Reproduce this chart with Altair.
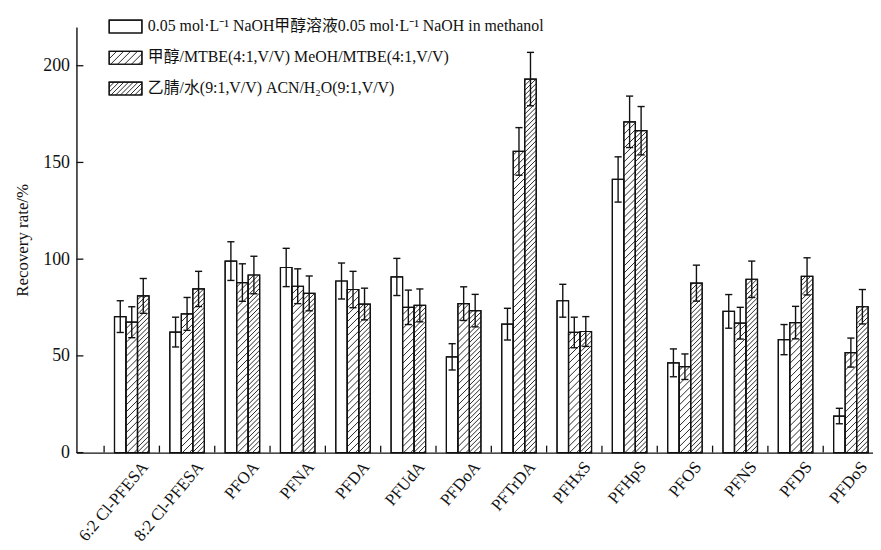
import altair as alt
import pandas as pd

# ---------------- data ----------------
categories = ["6:2 Cl-PFESA", "8:2 Cl-PFESA", "PFOA", "PFNA", "PFDA", "PFUdA", "PFDoA",
              "PFTrDA", "PFHxS", "PFHpS", "PFOS", "PFNS", "PFDS", "PFDoS"]
series = [
    "0.05 mol·L⁻¹ NaOH甲醇溶液0.05 mol·L⁻¹ NaOH in methanol",
    "甲醇/MTBE(4:1,V/V) MeOH/MTBE(4:1,V/V)",
    "乙腈/水(9:1,V/V) ACN/H₂O(9:1,V/V)",
]
naoh_mean = [70.3, 62.3, 99.0, 95.7, 88.7, 90.8, 49.5, 66.4, 78.5, 141.2, 46.4, 73.0, 58.4, 18.9]
naoh_err = [8.2, 7.7, 10.0, 9.9, 9.3, 9.6, 6.8, 8.2, 8.5, 11.7, 7.2, 8.7, 7.8, 4.0]
meoh_mean = [67.4, 71.7, 87.9, 86.0, 84.3, 75.1, 77.0, 155.7, 62.1, 171.0, 44.4, 66.9, 67.2, 51.7]
meoh_err = [8.0, 8.5, 9.7, 9.0, 9.4, 8.9, 8.7, 12.3, 7.9, 13.3, 6.6, 8.2, 8.4, 7.5]
acn_mean = [81.0, 84.6, 91.8, 82.3, 76.8, 76.1, 73.4, 193.1, 62.6, 166.4, 87.6, 89.6, 91.1, 75.4]
acn_err = [9.0, 9.1, 9.7, 9.0, 8.2, 8.5, 8.4, 13.8, 7.7, 12.5, 9.3, 9.4, 9.6, 8.9]
y_ticks = [0, 50, 100, 150, 200]

# ---------------- layout / style ----------------
W, H = 803, 429
X_MIN, X_MAX = -1.0, 13.4
Y_MIN, Y_MAX = 0, 220
KX = W / (X_MAX - X_MIN)   # px per x unit
KY = H / (Y_MAX - Y_MIN)   # px per y unit
BAR_PX = 11.6
BAR_W = BAR_PX / KX
CAP_HALF = 3.6 / KX
HATCH_SP = [None, 7.0, 4.8]   # px spacing of the diagonal hatch per series
FONT = "Liberation Serif, Noto Sans CJK SC"
INK = "#111111"


def hatch_lines(xl, xr, y0, y1, sp):
    """45-degree '/' hatch segments clipped to a rectangle given in data units."""
    w = (xr - xl) * KX
    h = (y1 - y0) * KY
    out = []
    k = 0
    while True:
        c = -w + (k + 0.5) * sp
        if c >= h:
            break
        u0 = max(0.0, -c)
        u1 = min(w, h - c)
        if u1 > u0:
            out.append({"hx1": xl + u0 / KX, "hy1": y0 + (u0 + c) / KY,
                        "hx2": xl + u1 / KX, "hy2": y0 + (u1 + c) / KY})
        k += 1
    return out


means = [naoh_mean, meoh_mean, acn_mean]
errs = [naoh_err, meoh_err, acn_err]

bar_rows, hatch_rows, cap_rows = [], [], []
for s in range(3):
    for i, cat in enumerate(categories):
        xc = i + (s - 1) * BAR_W
        m, e = means[s][i], errs[s][i]
        bar_rows.append({"cat": cat, "series": series[s], "xl": xc - BAR_W / 2, "xr": xc + BAR_W / 2,
                         "y0": 0.0, "mean": m, "xc": xc, "lo": m - e, "hi": m + e})
        for yy in (m - e, m + e):
            cap_rows.append({"cx1": xc - CAP_HALF, "cx2": xc + CAP_HALF, "cy": yy})
        if HATCH_SP[s]:
            hatch_rows += hatch_lines(xc - BAR_W / 2, xc + BAR_W / 2, 0.0, m, HATCH_SP[s])

# legend (drawn in data space, placed at the top left)
LEG_X0_PX, LEG_BOX_W, LEG_BOX_H = 33, 33, 13
LEG_Y_PX = [-0.5, 31, 62]
LEG_TEXT_X_PX = 72
leg_box_rows, leg_text_rows = [], []
for s in range(3):
    xl = X_MIN + LEG_X0_PX / KX
    xr = X_MIN + (LEG_X0_PX + LEG_BOX_W) / KX
    yc = Y_MAX - LEG_Y_PX[s] / KY
    y0 = yc - LEG_BOX_H / 2 / KY
    y1 = yc + LEG_BOX_H / 2 / KY
    leg_box_rows.append({"lx1": xl, "lx2": xr, "ly1": y0, "ly2": y1})
    leg_text_rows.append({"tx": X_MIN + LEG_TEXT_X_PX / KX, "ty": yc + 0.6 / KY, "label": series[s]})
    if HATCH_SP[s]:
        hatch_rows += hatch_lines(xl, xr, y0, y1, HATCH_SP[s])

bars = pd.DataFrame(bar_rows)
hatch = pd.DataFrame(hatch_rows)
caps = pd.DataFrame(cap_rows)
leg_box = pd.DataFrame(leg_box_rows)
leg_text = pd.DataFrame(leg_text_rows)
xticks = pd.DataFrame({"xb": [i - 0.5 for i in range(len(categories))]})
yticks = pd.DataFrame({"yt": y_ticks})

xs = alt.Scale(domain=[X_MIN, X_MAX], nice=False, zero=False)
ys = alt.Scale(domain=[Y_MIN, Y_MAX], nice=False, zero=False)

label_expr = "[" + ",".join("'" + c + "'" for c in categories) + "][round(datum.value)]"

x_axis = alt.Axis(values=list(range(len(categories))), labelExpr=label_expr, title=None,
                  grid=False, ticks=False, labelAngle=-50, labelAlign="right", labelBaseline="top",
                  labelOffset=7, labelPadding=6, labelFont=FONT, labelFontSize=17,
                  labelColor=INK, domainColor=INK, domainWidth=1.4, labelOverlap=False,
                  labelBound=False, labelFlush=False)
y_axis = alt.Axis(values=y_ticks, title="Recovery rate/%", grid=False, ticks=False,
                  labelPadding=7, labelFont=FONT, labelFontSize=18, labelColor=INK,
                  titleFont=FONT, titleFontSize=17, titleFontWeight="normal", titleColor=INK,
                  titlePadding=11, domainColor=INK, domainWidth=1.4)


def X(field):
    return alt.X(field, scale=xs, axis=x_axis)


def Y(field):
    return alt.Y(field, scale=ys, axis=y_axis)


base_bars = alt.Chart(bars)

fill_layer = base_bars.mark_rect(fill="white", stroke=INK, strokeWidth=1.2).encode(
    x=X("xl:Q"), x2="xr:Q", y=Y("mean:Q"), y2="y0:Q",
)

hatch_layer = alt.Chart(hatch).mark_rule(stroke=INK, strokeWidth=0.9).encode(
    x=X("hx1:Q"), x2="hx2:Q", y=Y("hy1:Q"), y2="hy2:Q",
)

outline_layer = base_bars.mark_rect(filled=False, stroke=INK, strokeWidth=1.2).encode(
    x=X("xl:Q"), x2="xr:Q", y=Y("mean:Q"), y2="y0:Q",
)

err_layer = base_bars.mark_rule(stroke=INK, strokeWidth=1.4).encode(
    x=X("xc:Q"), y=Y("lo:Q"), y2="hi:Q",
)

cap_layer = alt.Chart(caps).mark_rule(stroke=INK, strokeWidth=1.4).encode(
    x=X("cx1:Q"), x2="cx2:Q", y=Y("cy:Q"),
)

xtick_layer = alt.Chart(xticks).mark_rule(stroke=INK, strokeWidth=1.3).encode(
    x=X("xb:Q"),
    y=alt.value(H),
    y2=alt.value(H - 7),
)

ytick_layer = alt.Chart(yticks).mark_rule(stroke=INK, strokeWidth=1.3).encode(
    y=Y("yt:Q"),
    x=alt.value(0),
    x2=alt.value(7),
)

leg_fill = alt.Chart(leg_box).mark_rect(fill="white", stroke=INK, strokeWidth=1.2).encode(
    x=X("lx1:Q"), x2="lx2:Q", y=Y("ly1:Q"), y2="ly2:Q",
)
leg_outline = alt.Chart(leg_box).mark_rect(filled=False, stroke=INK, strokeWidth=1.2).encode(
    x=X("lx1:Q"), x2="lx2:Q", y=Y("ly1:Q"), y2="ly2:Q",
)
leg_label = alt.Chart(leg_text).mark_text(align="left", baseline="middle", font=FONT,
                                          fontSize=16, color=INK).encode(
    x=X("tx:Q"), y=Y("ty:Q"), text="label:N",
)

chart = alt.layer(
    fill_layer, leg_fill, hatch_layer, outline_layer, leg_outline,
    err_layer, cap_layer, xtick_layer, ytick_layer, leg_label,
).properties(
    width=W, height=H,
    autosize=alt.AutoSizeParams(type="none"),
    padding={"left": 69, "top": 17, "right": 0, "bottom": 95},
    background="white",
).configure_view(stroke="transparent")

chart.save("out.html", embed_options={"renderer": "svg", "actions": False})
